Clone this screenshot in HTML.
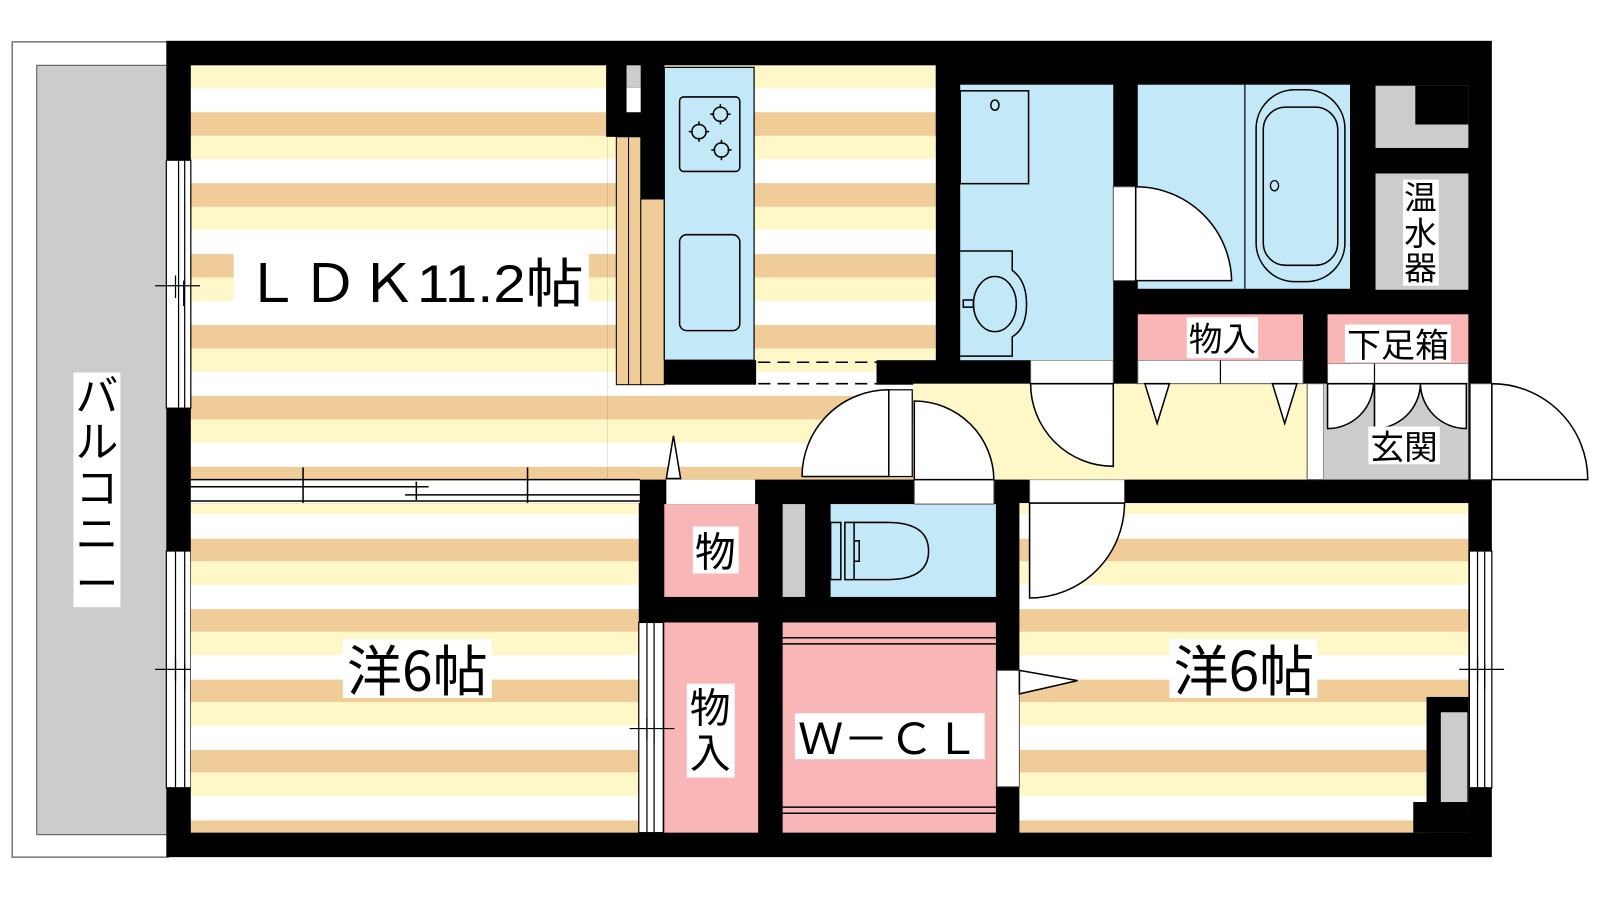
<!DOCTYPE html>
<html><head><meta charset="utf-8">
<style>
html,body{margin:0;padding:0;background:#fff;}
svg{display:block;}
text{font-family:"Liberation Sans","Noto Sans CJK JP",sans-serif;fill:#000;}
.j{font-family:"Noto Sans CJK JP","Liberation Sans",sans-serif;}
</style></head>
<body>
<svg width="1600" height="900" viewBox="0 0 1568 882" xmlns="http://www.w3.org/2000/svg">
<defs>
<pattern id="su" patternUnits="userSpaceOnUse" x="0" y="110" width="2000" height="69.5">
<rect width="2000" height="69.5" fill="#fff"/>
<rect y="0" width="2000" height="23" fill="#efcc98"/>
<rect y="23" width="2000" height="23" fill="#fef8c8"/>
</pattern>
<pattern id="sl" patternUnits="userSpaceOnUse" x="0" y="528" width="2000" height="69" >
<rect width="2000" height="69" fill="#fff"/>
<rect y="0" width="2000" height="22" fill="#efcc98"/>
<rect y="22" width="2000" height="23" fill="#fef8c8"/>
</pattern>
</defs>
<rect width="1568" height="882" fill="#fff"/>
<rect x="12" y="41" width="153" height="799" fill="#fff" stroke="#777" stroke-width="1.5"/>
<rect x="36" y="64" width="128" height="754" fill="#cccccc" stroke="#555" stroke-width="1"/>
<rect x="163" y="40" width="1299" height="800" fill="#000"/>
<rect x="187" y="64" width="408" height="406" fill="url(#su)"/>
<rect x="595" y="134" width="322" height="336" fill="url(#su)"/>
<rect x="651" y="64" width="266" height="290" fill="url(#su)"/>
<rect x="859" y="353" width="151" height="24" fill="#000"/>
<rect x="594" y="64" width="57" height="70" fill="#000"/>
<rect x="614" y="64" width="14" height="22" fill="#ccc"/>
<rect x="614" y="86" width="14" height="24" fill="#fff"/>
<rect x="628" y="64" width="23" height="131" fill="#000"/>
<rect x="604" y="134" width="24" height="243" fill="#efcc98" stroke="#000" stroke-width="1"/>
<line x1="616" y1="134" x2="616" y2="377" stroke="#000" stroke-width="1"/>
<rect x="628" y="195" width="23" height="182" fill="#efcc98" stroke="#000" stroke-width="1"/>
<rect x="651" y="66" width="88" height="287" fill="#c3e9f9" stroke="#000" stroke-width="1.2"/>
<rect x="666" y="95" width="59" height="73" rx="4" fill="none" stroke="#000" stroke-width="1.5"/>
<g fill="none" stroke="#000" stroke-width="1.5">
<circle cx="706" cy="112" r="7"/><circle cx="685" cy="129" r="7"/><circle cx="707" cy="147" r="7"/>
<path d="M706,102v4M706,118v4M696,112h4M712,112h4M685,119v4M685,135v4M675,129h4M691,129h4M707,137v4M707,153v4M697,147h4M713,147h4"/>
</g>
<rect x="666" y="230" width="59" height="94" rx="7" fill="none" stroke="#000" stroke-width="1.5"/>
<rect x="651" y="353" width="90" height="24" fill="#000"/>
<line x1="743" y1="355" x2="860" y2="355" stroke="#000" stroke-width="1.5" stroke-dasharray="12,7"/>
<line x1="743" y1="376" x2="860" y2="376" stroke="#000" stroke-width="1.5" stroke-dasharray="12,7"/>
<g stroke="#000" stroke-width="1.2">
<rect x="163" y="157" width="24" height="243" fill="#fff"/>
<line x1="175" y1="157" x2="175" y2="400"/><line x1="181" y1="157" x2="181" y2="400"/>
<line x1="152" y1="280" x2="196" y2="280"/><line x1="172" y1="270" x2="172" y2="292"/><line x1="180" y1="275" x2="180" y2="300"/>
<rect x="163" y="540" width="24" height="232" fill="#fff"/>
<line x1="172" y1="540" x2="172" y2="772"/><line x1="181" y1="540" x2="181" y2="772"/>
<line x1="152" y1="656" x2="196" y2="656"/><line x1="172" y1="645" x2="172" y2="668"/><line x1="181" y1="650" x2="181" y2="675"/>
</g>
<rect x="187" y="470" width="440" height="23" fill="#fff"/>
<g stroke="#000" stroke-width="1.5">
<line x1="187" y1="470" x2="627" y2="470"/><line x1="187" y1="477" x2="420" y2="477"/>
<line x1="397" y1="485" x2="627" y2="485"/><line x1="187" y1="491" x2="627" y2="491"/>
<line x1="297" y1="458" x2="297" y2="503"/><line x1="517" y1="458" x2="517" y2="503"/><line x1="408" y1="472" x2="408" y2="490"/>
</g>
<path d="M653,469 L660,427 L667,469 Z" fill="#fff" stroke="#000" stroke-width="1.5"/>
<rect x="187" y="493" width="439" height="323" fill="url(#sl)"/>
<rect x="653" y="470" width="87" height="24" fill="#fff"/>
<rect x="651" y="494" width="92" height="91" fill="#f8b6b6"/>
<rect x="767" y="494" width="22" height="91" fill="#ccc"/>
<rect x="814" y="494" width="162" height="91" fill="#c3e9f9"/>
<g fill="none" stroke="#000" stroke-width="1.5">
<rect x="814" y="512" width="10" height="56"/>
<path d="M828,512 L870,512 Q910,512 910,540 Q910,568 870,568 L828,568 Z"/>
<line x1="837" y1="512" x2="837" y2="568"/>
<path d="M837,530 L842,530 L842,550 L837,550"/>
</g>
<rect x="896" y="470" width="78" height="24" fill="#fff" stroke="#555" stroke-width="1"/>
<rect x="651" y="610" width="92" height="206" fill="#f8b6b6"/>
<rect x="626" y="610" width="24" height="206" fill="#fff" stroke="#000" stroke-width="1.2"/>
<g stroke="#000" stroke-width="1.2"><line x1="634" y1="610" x2="634" y2="816"/><line x1="641" y1="610" x2="641" y2="816"/>
<line x1="617" y1="714" x2="661" y2="714"/><line x1="634" y1="703" x2="634" y2="725"/><line x1="641" y1="707" x2="641" y2="730"/></g>
<rect x="767" y="610" width="209" height="206" fill="#f8b6b6"/>
<g stroke="#000" stroke-width="1.5"><line x1="767" y1="625" x2="976" y2="625"/><line x1="767" y1="631" x2="976" y2="631"/>
<line x1="767" y1="791" x2="976" y2="791"/><line x1="767" y1="797" x2="976" y2="797"/></g>
<rect x="999" y="493" width="440" height="323" fill="url(#sl)"/>
<rect x="1009" y="470" width="93" height="23" fill="#fff" stroke="#555" stroke-width="1"/>
<path d="M1009,493 L1102,493 A93,93 0 0 1 1009,586 Z" fill="#fff" stroke="#000" stroke-width="1.5"/>
<rect x="977" y="657" width="22" height="114" fill="#fff" stroke="#555" stroke-width="1"/>
<path d="M999,657 L1056,667 L999,680 Z" fill="#fff" stroke="#000" stroke-width="1.5"/>
<rect x="1440" y="540" width="22" height="232" fill="#fff" stroke="#000" stroke-width="1.2"/>
<g stroke="#000" stroke-width="1.2"><line x1="1448" y1="540" x2="1448" y2="772"/><line x1="1455" y1="540" x2="1455" y2="772"/>
<line x1="1430" y1="656" x2="1474" y2="656"/><line x1="1448" y1="645" x2="1448" y2="668"/><line x1="1455" y1="650" x2="1455" y2="675"/></g>
<rect x="1398" y="683" width="41" height="133" fill="#000"/>
<rect x="1385" y="786" width="54" height="30" fill="#000"/>
<rect x="1412" y="698" width="26" height="88" fill="#ccc"/>
<rect x="895" y="376" width="386" height="94" fill="#fef8c8"/>
<rect x="1281" y="376" width="16" height="94" fill="#fff" stroke="#555" stroke-width="1"/>
<rect x="1297" y="376" width="142" height="94" fill="#ccc"/>
<rect x="871" y="382" width="23" height="85" fill="#fff" stroke="#000" stroke-width="1.2"/>
<path d="M871,467 L786,467 A85,85 0 0 1 871,382 Z" fill="#fff" stroke="#000" stroke-width="1.5"/>
<path d="M896,470 L896,393 A78,78 0 0 1 974,470 Z" fill="#fff" stroke="#000" stroke-width="1.5"/>
<rect x="1010" y="353" width="81" height="23" fill="#fff" stroke="#555" stroke-width="1"/>
<path d="M1091,376 L1010,376 A81,81 0 0 0 1091,457 Z" fill="#fff" stroke="#000" stroke-width="1.5"/>
<rect x="1115" y="353" width="162" height="23" fill="#fff" stroke="#555" stroke-width="1"/>
<line x1="1196" y1="353" x2="1196" y2="376" stroke="#000" stroke-width="1.2"/>
<path d="M1122,376 L1134,415 L1146,376 Z" fill="#fff" stroke="#000" stroke-width="1.5"/>
<path d="M1247,376 L1259,415 L1271,376 Z" fill="#fff" stroke="#000" stroke-width="1.5"/>
<rect x="1301" y="356" width="138" height="20" fill="#fff" stroke="#555" stroke-width="1"/>
<g fill="#fff" stroke="#000" stroke-width="1.5">
<path d="M1301,376 L1301,420 A45,45 0 0 0 1346,376 Z"/>
<path d="M1392,376 A45,45 0 0 1 1347,420 L1347,376 Z"/>
<path d="M1392,376 A45,45 0 0 0 1437,420 L1437,376 Z"/>
</g>
<line x1="1347" y1="356" x2="1347" y2="420" stroke="#000" stroke-width="1.2"/>
<rect x="1441" y="376" width="21" height="94" fill="#fff" stroke="#555" stroke-width="1"/>
<path d="M1462,470 L1462,376 A94,94 0 0 1 1556,470 Z" fill="#fff" stroke="#000" stroke-width="1.5"/>
<rect x="941" y="83" width="150" height="270" fill="#c3e9f9"/>
<g fill="none" stroke="#000" stroke-width="1.5">
<rect x="941" y="89" width="67" height="91"/><ellipse cx="975" cy="103" rx="4" ry="5"/>
<path d="M941,246 L992,246 L992,265 Q1006,275 1006,298 Q1006,322 992,330 L992,349 L941,349"/>
<ellipse cx="975" cy="298" rx="21" ry="27"/>
<rect x="944" y="294" width="10" height="7"/>
</g>
<rect x="1115" y="83" width="208" height="200" fill="#c3e9f9"/>
<line x1="1220" y1="83" x2="1220" y2="283" stroke="#000" stroke-width="1.2"/>
<rect x="1231" y="88" width="87" height="188" rx="38" fill="none" stroke="#000" stroke-width="1.5"/>
<rect x="1238" y="105" width="73" height="155" rx="22" fill="none" stroke="#000" stroke-width="1.5"/>
<ellipse cx="1249" cy="182" rx="4" ry="5" fill="none" stroke="#000" stroke-width="1.3"/>
<rect x="1091" y="183" width="22" height="92" fill="#fff" stroke="#555" stroke-width="1"/>
<path d="M1113,275 L1113,183 A94,94 0 0 1 1207,275 Z" fill="#fff" stroke="#000" stroke-width="1.5"/>
<rect x="1348" y="84" width="91" height="61" fill="#ccc"/>
<rect x="1387" y="84" width="52" height="38" fill="#000"/>
<rect x="1348" y="170" width="91" height="114" fill="#ccc"/>
<rect x="1115" y="308" width="162" height="45" fill="#f8b6b6"/>
<rect x="1301" y="308" width="138" height="48" fill="#f8b6b6"/>
<rect x="72" y="365" width="46" height="230" fill="#fff"/>
<g class="j" font-size="42" text-anchor="middle">
<text x="95" y="403" class="j">バ</text>
<text x="95" y="448" class="j">ル</text>
<text x="95" y="493" class="j">コ</text>
<text x="95" y="538" class="j">ニ</text>
<text x="95" y="587" class="j">ー</text>
</g>
<rect x="229" y="249" width="348" height="48" fill="#fff"/>
<text x="238" y="296" font-size="52" textLength="334" lengthAdjust="spacingAndGlyphs">ＬＤＫ11.2帖</text>
<rect x="336" y="626" width="146" height="58" fill="#fff"/>
<text x="340" y="677" font-size="54" textLength="138" lengthAdjust="spacingAndGlyphs" class="j">洋6帖</text>
<rect x="1146" y="626" width="145" height="58" fill="#fff"/>
<text x="1150" y="677" font-size="54" textLength="138" lengthAdjust="spacingAndGlyphs" class="j">洋6帖</text>
<rect x="679" y="516" width="45" height="46" fill="#fff"/>
<text x="701" y="555" font-size="40" text-anchor="middle" class="j">物</text>
<rect x="673" y="670" width="47" height="92" fill="#fff"/>
<text x="696" y="708" font-size="40" text-anchor="middle" class="j">物</text>
<text x="696" y="752" font-size="40" text-anchor="middle" class="j">入</text>
<rect x="779" y="699" width="186" height="45" fill="#fff"/>
<text x="782" y="739" font-size="42" textLength="178" lengthAdjust="spacingAndGlyphs">Ｗ－ＣＬ</text>
<rect x="1163" y="311" width="70" height="40" fill="#fff"/>
<text x="1165" y="344" font-size="33" textLength="66" lengthAdjust="spacingAndGlyphs" class="j">物入</text>
<rect x="1318" y="318" width="104" height="37" fill="#fff"/>
<text x="1320" y="350" font-size="33" textLength="100" lengthAdjust="spacingAndGlyphs" class="j">下足箱</text>
<rect x="1341" y="418" width="70" height="37" fill="#fff"/>
<text x="1343" y="450" font-size="33" textLength="66" lengthAdjust="spacingAndGlyphs" class="j">玄関</text>
<rect x="1375" y="176" width="35" height="104" fill="#fff"/>
<text x="1392" y="205" font-size="32" text-anchor="middle" class="j">温</text>
<text x="1392" y="240" font-size="32" text-anchor="middle" class="j">水</text>
<text x="1392" y="274" font-size="32" text-anchor="middle" class="j">器</text>
</svg>
</body></html>
